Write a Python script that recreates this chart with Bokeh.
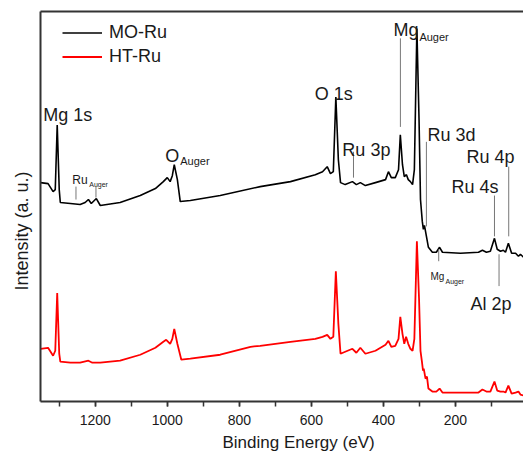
from bokeh.plotting import figure
from bokeh.models import (Range1d, LinearAxis, FixedTicker, SingleIntervalTicker,
                          Label, Legend, LegendItem, Title)
from bokeh.embed import file_html
from bokeh.resources import INLINE

# ---- data: XPS survey spectra (binding energy in eV, intensity in a.u.) ----
mo_energy = [1352, 1331, 1317, 1311, 1305.6, 1300, 1297, 1269, 1242, 1228, 1219, 1211,
             1197, 1186, 1131, 1075, 1033, 1011, 1000, 992, 986, 980.6, 972, 964, 936,
             853, 742, 658, 589, 569, 556, 547, 539, 532, 525, 519, 506, 486, 475, 464,
             450, 422, 394, 386, 378, 367, 358, 353, 347, 342, 336, 331, 325, 319, 314,
             307, 301, 297, 292, 289, 286, 281, 275, 264, 253, 244, 236, 186, 136, 125,
             114, 103, 91.6, 84, 75, 67, 61, 53, 44, 33, 25, 19.5, 11]
mo_intensity = [220, 219, 211, 213, 278, 213, 200, 199, 198, 200, 203, 199,
                204, 197, 200, 207, 214, 221, 225, 221, 227, 238, 223, 201, 202,
                207, 216, 221, 228, 231, 236, 229, 231, 306, 243, 220, 218, 221, 218, 220,
                217, 220, 223, 231, 225, 225, 233, 268, 238, 226, 228, 223, 221, 218, 233,
                375, 283, 203, 181, 173, 177, 167, 155, 150, 150, 155, 150, 149, 150, 152,
                150, 151, 164, 153, 151, 152, 150, 159, 149, 149, 146, 148, 145]

ht_energy = [1352, 1331, 1317, 1311, 1305.6, 1300, 1297, 1269, 1242, 1219, 1208, 1186,
             1131, 1075, 1033, 1011, 1003, 992, 986, 980.6, 972, 961, 936, 853, 769, 742,
             658, 589, 569, 556, 547, 539, 532, 525, 519, 506, 486, 475, 464, 450, 422,
             394, 386, 378, 367, 358, 353, 347, 342, 337, 331, 325, 319, 314, 307, 301,
             297, 293, 290, 288, 283, 279, 275, 264, 253, 244, 236, 186, 136, 125, 114,
             103, 91.6, 84, 75, 67, 61, 53, 44, 33, 25, 19.5, 11]
ht_intensity = [53, 54, 46, 51, 109, 48, 40, 39, 39, 41, 39, 39,
                41, 47, 54, 60, 62, 58, 63, 73, 58, 42, 43, 47, 55, 56,
                60, 63, 65, 67, 63, 65, 131, 78, 48, 50, 53, 49, 54, 48, 51,
                57, 61, 55, 56, 63, 85, 68, 58, 65, 58, 53, 51, 63, 161, 103,
                51, 40, 31, 33, 23, 25, 13, 10, 10, 13, 9, 9, 9, 12, 10,
                10, 20, 11, 10, 10, 9, 16, 8, 9, 10, 7, 6]

series_names = ["MO-Ru", "HT-Ru"]
series_colors = ["#000000", "#ff0000"]

# peak annotations: text, energy, baseline intensity, font size
peak_texts = ["Mg 1s", "O 1s", "Ru 3p", "Ru 3d", "Ru 4p", "Ru 4s", "Al 2p",
              "O", "Auger", "Mg", "Auger", "Ru", "Auger", "Mg", "Auger"]
peak_text_x = [1344.4, 590.8, 513.9, 277.8, 169.4, 211.1, 158.3,
               1005.6, 963.9, 372.2, 300.0, 1263.9, 1216.7, 269.4, 227.6]
peak_text_y = [288, 309, 253, 268, 246, 216, 98,
               247, 242, 373, 366, 223, 218, 126, 121]
peak_text_size = [18, 18, 18, 18, 18, 18, 18,
                  18, 11, 18, 11, 12, 7, 10, 7]

# leader lines: energy, top, bottom
lead_x = [1253.5, 1198, 352.8, 483, 280.6, 91.6, 52, 246.4, 78.9]
lead_top = [216, 216, 365, 251, 261, 207, 236, 153, 148]
lead_bot = [203, 205, 276, 225, 176, 166, 166, 141, 116]

FONT = "Liberation Sans"
TXT = "#1a1a1a"
AX = "#333333"

p = figure(width=523, height=455, x_range=Range1d(1352, 11), y_range=Range1d(0, 392),
           output_backend="svg", toolbar_location=None,
           min_border_left=40, min_border_right=0, min_border_top=11, min_border_bottom=52)
p.outline_line_color = None
p.grid.visible = False
p.background_fill_color = "white"

# left axis: line only
p.yaxis.ticker = FixedTicker(ticks=[])
p.yaxis.major_label_text_font_size = "0px"
p.yaxis.major_tick_line_color = None
p.yaxis.minor_tick_line_color = None
p.yaxis.axis_line_width = 2
p.yaxis.axis_line_color = AX

# bottom axis
p.xaxis.ticker = SingleIntervalTicker(interval=200, num_minor_ticks=2)
p.xaxis.major_tick_out = 5
p.xaxis.major_tick_in = 0
p.xaxis.minor_tick_out = 5
p.xaxis.minor_tick_in = 0
p.xaxis.major_tick_line_width = 1.5
p.xaxis.minor_tick_line_width = 1.5
p.xaxis.major_tick_line_color = AX
p.xaxis.minor_tick_line_color = AX
p.xaxis.axis_line_width = 2
p.xaxis.axis_line_color = AX
p.xaxis.major_label_text_font = FONT
p.xaxis.major_label_text_font_size = "14px"
p.xaxis.major_label_text_color = TXT
p.xaxis.major_label_standoff = 8

# top frame line
top = LinearAxis(ticker=FixedTicker(ticks=[]), major_label_text_font_size="0px",
                 major_tick_line_color=None, minor_tick_line_color=None,
                 axis_line_width=2, axis_line_color=AX)
p.add_layout(top, "above")

# axis titles
p.add_layout(Title(text="Binding Energy (eV)", align="left", offset=182, standoff=7,
                   text_font=FONT, text_font_size="17px", text_font_style="normal",
                   text_color=TXT), "below")
p.add_layout(Title(text="Intensity (a. u.)", align="left", offset=111, standoff=18,
                   text_font=FONT, text_font_size="18px", text_font_style="normal",
                   text_color=TXT), "left")

# spectra
r_mo = p.line(mo_energy, mo_intensity, line_color=series_colors[0], line_width=1.6)
r_ht = p.line(ht_energy, ht_intensity, line_color=series_colors[1], line_width=1.8)

# leader lines
p.segment(x0=lead_x, y0=lead_bot, x1=lead_x, y1=lead_top, line_color="#777777", line_width=1)

# peak labels
for t, x, y, s in zip(peak_texts, peak_text_x, peak_text_y, peak_text_size):
    p.add_layout(Label(x=x, y=y, text=t, text_font=FONT, text_font_size=f"{s}px",
                       text_color=TXT, text_align="left", text_baseline="alphabetic"))

legend = Legend(items=[LegendItem(label=series_names[0], renderers=[r_mo]),
                       LegendItem(label=series_names[1], renderers=[r_ht])],
                location=(22, 334), padding=0, margin=0, spacing=3,
                glyph_width=40, glyph_height=21, label_height=21, label_standoff=7,
                label_text_font=FONT, label_text_font_size="18px", label_text_color=TXT,
                border_line_color=None, background_fill_alpha=0)
p.add_layout(legend)

open("out.html", "w").write(file_html(p, INLINE))
